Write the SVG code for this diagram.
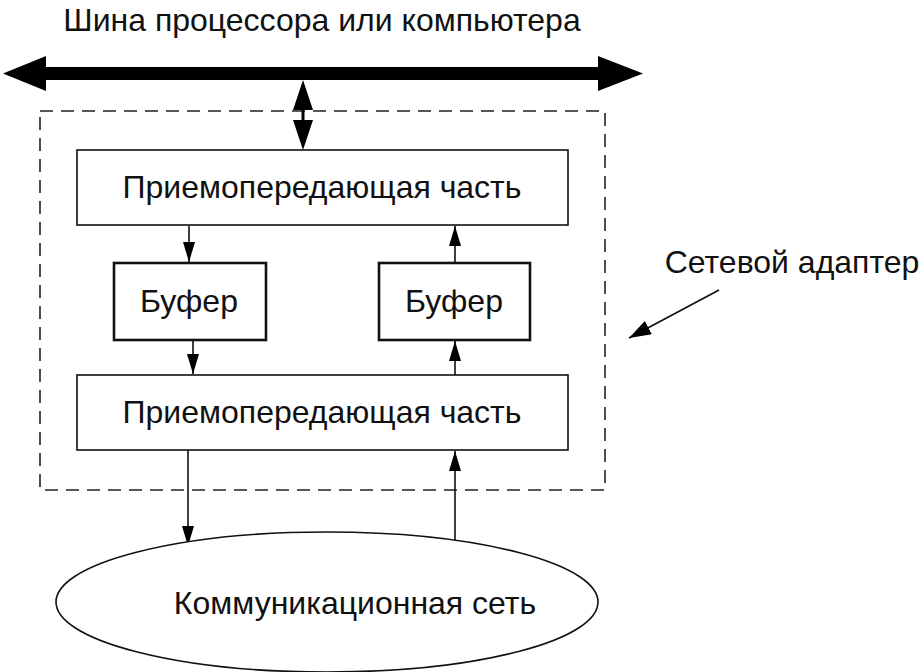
<svg xmlns="http://www.w3.org/2000/svg" width="924" height="672" viewBox="0 0 924 672">
<defs>
<marker id="ah" viewBox="0 0 20 12" refX="20" refY="6" markerWidth="20" markerHeight="12" markerUnits="userSpaceOnUse" orient="auto">
<path d="M0,0 L20,6 L0,12 Z" fill="#000"/>
</marker>
<marker id="ahL" viewBox="0 0 22 15" refX="22" refY="7.5" markerWidth="22" markerHeight="15" markerUnits="userSpaceOnUse" orient="auto">
<path d="M0,0 L22,7.5 L0,15 Z" fill="#000"/>
</marker>
<style>
text{font-family:"Liberation Sans",Arial,sans-serif;font-size:32px;fill:#111;text-anchor:middle}
.box{fill:#fff;stroke:#111;stroke-width:1.6}
.buf{fill:#fff;stroke:#111;stroke-width:2.6}
.ln{stroke:#111;stroke-width:1.6;fill:none}
</style>
</defs>
<rect width="924" height="672" fill="#fff"/>
<text x="322" y="31">Шина процессора или компьютера</text>
<g id="bus">
<rect x="40" y="67" width="560" height="13" fill="#000"/>
<path d="M3,73.5 L46,56 L46,91 Z" fill="#000"/>
<path d="M643,73.5 L598,56 L598,91 Z" fill="#000"/>
</g>
<g id="adapter">
<rect x="40" y="111" width="565" height="379" fill="none" stroke="#222" stroke-width="1.6" stroke-dasharray="13,8"/>
</g>
<g id="connectors">
<line x1="303" y1="100" x2="303" y2="130" stroke="#000" stroke-width="3"/>
<path d="M303,80 L293,110 L313,110 Z" fill="#000"/>
<path d="M303,150 L293,120 L313,120 Z" fill="#000"/>
<line class="ln" x1="189" y1="226" x2="189" y2="262" marker-end="url(#ah)"/>
<line class="ln" x1="193" y1="340" x2="193" y2="374" marker-end="url(#ah)"/>
<line class="ln" x1="455" y1="263" x2="455" y2="226" marker-end="url(#ah)"/>
<line class="ln" x1="455" y1="375" x2="455" y2="341" marker-end="url(#ah)"/>
<line class="ln" x1="188" y1="450" x2="188" y2="546" marker-end="url(#ah)"/>
<line class="ln" x1="455" y1="544" x2="455" y2="451" marker-end="url(#ah)"/>
<line class="ln" x1="719" y1="290" x2="629" y2="338" marker-end="url(#ahL)"/>
</g>
<g id="top">
<rect class="box" x="77" y="150" width="491" height="75"/>
<text x="322" y="198">Приемопередающая часть</text>
</g>
<g id="buf1">
<rect class="buf" x="114" y="263" width="152" height="77"/>
<text x="189" y="312">Буфер</text>
</g>
<g id="buf2">
<rect class="buf" x="379" y="263" width="151" height="77"/>
<text x="454" y="312">Буфер</text>
</g>
<g id="bottom">
<rect class="box" x="77" y="375" width="491" height="75"/>
<text x="322" y="423">Приемопередающая часть</text>
</g>
<g id="net">
<ellipse cx="327" cy="602" rx="271" ry="70" fill="#fff" stroke="#111" stroke-width="1.6"/>
<text x="355" y="614">Коммуникационная сеть</text>
</g>
<g id="label">
<text x="792" y="273">Сетевой адаптер</text>
</g>
</svg>
